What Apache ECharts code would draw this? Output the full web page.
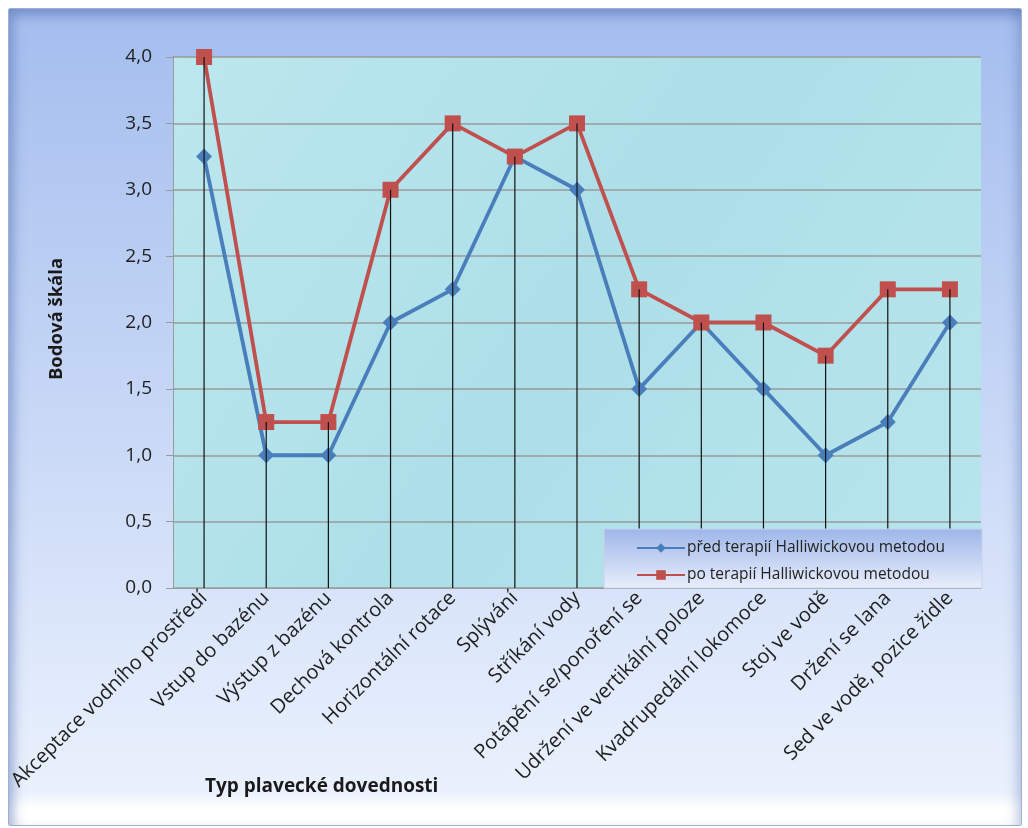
<!DOCTYPE html>
<html>
<head>
<meta charset="utf-8">
<script src="https://cdn.jsdelivr.net/npm/echarts@6/dist/echarts.min.js"></script>
<style>
  html, body { margin: 0; padding: 0; background: #ffffff; }
  #frame {
    position: absolute; left: 8px; top: 8px; width: 1012px; height: 816px;
    border: 1px solid #9fb0d4; border-radius: 2px;
    background: linear-gradient(to bottom, #a4bdee 0%, #b6cbf2 25%, #cbdaf7 55%, #dfe9fb 80%, #eaf1fd 96%, #ffffff 98%);
    box-shadow: inset 10px 12px 12px -6px rgba(70,100,170,0.5), inset -10px 0 12px -6px rgba(70,100,170,0.35);
  }
  #chart { position: absolute; left: 0; top: 0; width: 1028px; height: 828px; }
</style>
</head>
<body>
<div id="frame"></div>
<div id="chart"></div>
<script>
// Swimming skill categories
const categories = [
  'Akceptace vodního prostředí', 'Vstup do bazénu', 'Výstup z bazénu', 'Dechová kontrola',
  'Horizontální rotace', 'Splývání', 'Stříkání vody', 'Potápění se/ponoření se',
  'Udržení ve vertikální poloze', 'Kvadrupedální lokomoce', 'Stoj ve vodě',
  'Držení se lana', 'Sed ve vodě, pozice židle'
];
// Scores before therapy
const before = [3.25, 1.0, 1.0, 2.0, 2.25, 3.25, 3.0, 1.5, 2.0, 1.5, 1.0, 1.25, 2.0];
// Scores after therapy
const after = [4.0, 1.25, 1.25, 3.0, 3.5, 3.25, 3.5, 2.25, 2.0, 2.0, 1.75, 2.25, 2.25];
const seriesNames = ['před terapií Halliwickovou metodou', 'po terapií Halliwickovou metodou'];

// Drop lines run from the higher of the two points down to the axis
const dropTops = categories.map((_, i) => Math.max(before[i], after[i]));

const font = '"Open Sans", "Noto Sans", sans-serif';
const chart = echarts.init(document.getElementById('chart'), null, { renderer: 'canvas' });

chart.setOption({
  backgroundColor: 'transparent',
  animation: false,
  grid: {
    left: 173, right: 47, top: 57, bottom: 240,
    show: true, borderWidth: 0,
    backgroundColor: new echarts.graphic.LinearGradient(0, 0, 1, 1, [
      { offset: 0, color: '#bce7ee' },
      { offset: 0.5, color: '#addfe8' },
      { offset: 1, color: '#b8e5ed' }
    ])
  },
  xAxis: {
    type: 'category',
    data: categories,
    boundaryGap: true,
    axisLine: { lineStyle: { color: '#9a9a9a', width: 1 } },
    axisTick: { show: false },
    axisLabel: {
      interval: 0, rotate: 45, margin: 7,
      fontFamily: font, fontSize: 20, color: '#1f1f1f'
    }
  },
  yAxis: {
    type: 'value',
    min: 0, max: 4, interval: 0.5,
    axisLine: { show: true, lineStyle: { color: '#9a9a9a' } },
    axisTick: { show: true, length: 7, lineStyle: { color: '#9a9a9a' } },
    splitLine: { lineStyle: { color: '#9a9a9a', width: 1.5 } },
    axisLabel: {
      margin: 21, fontFamily: font, fontSize: 19, color: '#1f1f1f',
      formatter: v => v.toFixed(1).replace('.', ',')
    }
  },
  legend: {
    data: seriesNames,
    orient: 'vertical',
    left: 631, top: 535,
    itemWidth: 48, itemHeight: 12, itemGap: 11,
    z: 20,
    textStyle: { fontFamily: font, fontSize: 15.5, color: '#222', padding: [0, 0, 0, -3] }
  },
  graphic: [
    {
      type: 'rect', z: 15,
      shape: { x: 604, y: 529, width: 378, height: 59 },
      style: {
        fill: new echarts.graphic.LinearGradient(0, 0, 0, 1, [
          { offset: 0, color: '#9db6e9' },
          { offset: 1, color: '#e9eefb' }
        ]),
        stroke: '#c9d3e6', lineWidth: 1
      }
    },
    {
      type: 'text', z: 20, left: 205, top: 777,
      style: { text: 'Typ plavecké dovednosti', font: 'bold 19px ' + font, fill: '#1a1a1a' }
    },
    {
      type: 'text', z: 20, x: 57, y: 319, rotation: Math.PI / 2,
      style: { text: 'Bodová škála', font: 'bold 18.5px ' + font, fill: '#1a1a1a', align: 'center', verticalAlign: 'middle' }
    }
  ],
  series: [
    {
      name: seriesNames[0], type: 'line', data: before,
      symbol: 'diamond', symbolSize: 16,
      lineStyle: { color: '#4a7ebb', width: 3.8 },
      itemStyle: { color: '#4a7ebb' }, z: 3
    },
    {
      name: seriesNames[1], type: 'line', data: after,
      symbol: 'rect', symbolSize: 16,
      lineStyle: { color: '#c0504d', width: 3.8 },
      itemStyle: { color: '#c0504d' }, z: 4
    },
    {
      name: 'drop', type: 'bar', data: dropTops,
      barWidth: 1.2, barGap: '-100%', itemStyle: { color: '#111' }, z: 6, silent: true
    }
  ]
});
</script>
</body>
</html>
